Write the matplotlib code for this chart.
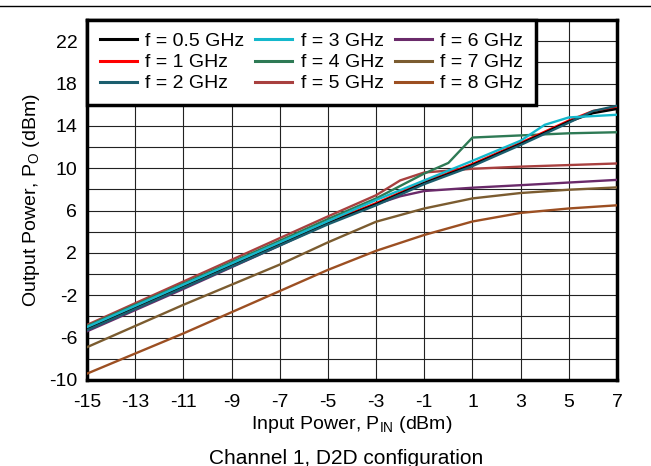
import matplotlib
matplotlib.use("Agg")
import matplotlib.pyplot as plt
from matplotlib.lines import Line2D

plt.rcParams['font.family'] = ['Liberation Sans', 'DejaVu Sans']
plt.rcParams['mathtext.default'] = 'regular'
plt.rcParams['axes.unicode_minus'] = False

# input power points (dBm) and output power per frequency (dBm)
pin_lin = [-15, -13, -11, -9, -7, -5, -3, -1, 1, 3, 5, 6, 7]
po_05 = [-5.2, -3.2, -1.2, 0.8, 2.8, 4.8, 6.6, 8.6, 10.3, 12.3, 14.4, 15.2, 15.6]
po_1 = [-5.1, -3.1, -1.1, 0.9, 2.9, 4.9, 6.7, 8.7, 10.4, 12.4, 14.5, 15.4, 15.75]
po_2 = [-5.3, -3.3, -1.3, 0.7, 2.7, 4.7, 6.5, 8.5, 10.2, 12.2, 14.3, 15.4, 15.9]

pin_3 = [-15, -13, -11, -9, -7, -5, -3, -1, 1, 3, 4, 5, 7]
po_3 = [-5.0, -3.0, -1.0, 1.0, 3.0, 5.0, 7.0, 8.85, 10.7, 12.6, 14.1, 14.8, 15.05]

pin_4 = [-15, -11, -7, -5, -3, -1, 0, 1, 3, 5, 7]
po_4 = [-4.9, -0.9, 3.15, 5.2, 7.15, 9.5, 10.5, 12.9, 13.1, 13.3, 13.4]

pin_5 = [-15, -11, -7, -5, -3, -2, -1, 1, 3, 5, 7]
po_5 = [-4.8, -0.7, 3.4, 5.45, 7.45, 8.85, 9.6, 9.95, 10.15, 10.3, 10.45]

pin_6 = [-15, -11, -7, -5, -3, -2, -1, 1, 3, 5, 7]
po_6 = [-5.4, -1.4, 2.7, 4.8, 6.6, 7.35, 7.85, 8.16, 8.4, 8.65, 8.9]

pin_7 = [-15, -13, -11, -9, -7, -5, -3, -1, 1, 3, 5, 7]
po_7 = [-6.9, -4.9, -2.9, -1.0, 0.9, 3.0, 4.95, 6.2, 7.15, 7.66, 7.97, 8.19]

pin_8 = [-15, -13, -11, -9, -7, -5, -3, -1, 1, 3, 5, 7]
po_8 = [-9.4, -7.5, -5.6, -3.6, -1.6, 0.4, 2.2, 3.7, 4.97, 5.78, 6.2, 6.5]

labels = ["f = 0.5 GHz", "f = 1 GHz", "f = 2 GHz", "f = 3 GHz", "f = 4 GHz",
          "f = 5 GHz", "f = 6 GHz", "f = 7 GHz", "f = 8 GHz"]
colors = ["#000000", "#ff0000", "#1b5e6e", "#14b8cc", "#2e7a55",
          "#a8403f", "#6a2a6a", "#7b5c30", "#9c4f22"]

series = [(pin_lin, po_05), (pin_lin, po_1), (pin_lin, po_2), (pin_3, po_3),
          (pin_4, po_4), (pin_5, po_5), (pin_6, po_6), (pin_7, po_7), (pin_8, po_8)]

fig = plt.figure(figsize=(6.51, 4.66), dpi=100)
ax = fig.add_axes([87/651, 86/466, 530/651, 360/466])

# draw order: lower curves first so the main bundle sits on top
order = [8, 7, 6, 5, 4, 1, 0, 2, 3]
for i in order:
    x, y = series[i]
    ax.plot(x, y, color=colors[i], lw=1.7, zorder=3)

ax.set_xlim(-15, 7)
ax.set_ylim(-10, 24)
ax.set_xticks(range(-15, 8, 2))
ax.set_yticks(range(-10, 23, 4))
ax.set_yticks(range(-10, 25, 2), minor=True)
ax.grid(True, which='both', color='#222222', lw=0.8)
ax.tick_params(which='both', length=0, labelsize=14)
ax.tick_params(axis='x', pad=10)
ax.tick_params(axis='y', pad=7)
for s in ax.spines.values():
    s.set_linewidth(2.5)

ax.set_xlabel("Input Power, P$_{IN}$ (dBm)", fontsize=14, labelpad=2)
ax.set_ylabel("Output Power, P$_{O}$ (dBm)", fontsize=14, labelpad=5)

handles = [Line2D([], [], color=c, lw=2.2) for c in colors]
leg = ax.legend(handles, labels, ncol=3, loc='upper left', bbox_to_anchor=(0, 1),
                borderaxespad=0, fancybox=False, framealpha=1, edgecolor='black',
                fontsize=14, handlelength=1.9, handletextpad=0.45,
                columnspacing=0.55, labelspacing=0.18, borderpad=0.65)
leg.get_frame().set_linewidth(2.5)
leg.set_zorder(5)

fig.text(346/651, 1 - 458/466, "Channel 1, D2D configuration", ha='center', va='center',
         fontsize=15)
fig.add_artist(Line2D([0, 1], [1 - 6/466, 1 - 6/466], color='black', lw=1,
                      transform=fig.transFigure))

fig.savefig("out.png", dpi=100)
